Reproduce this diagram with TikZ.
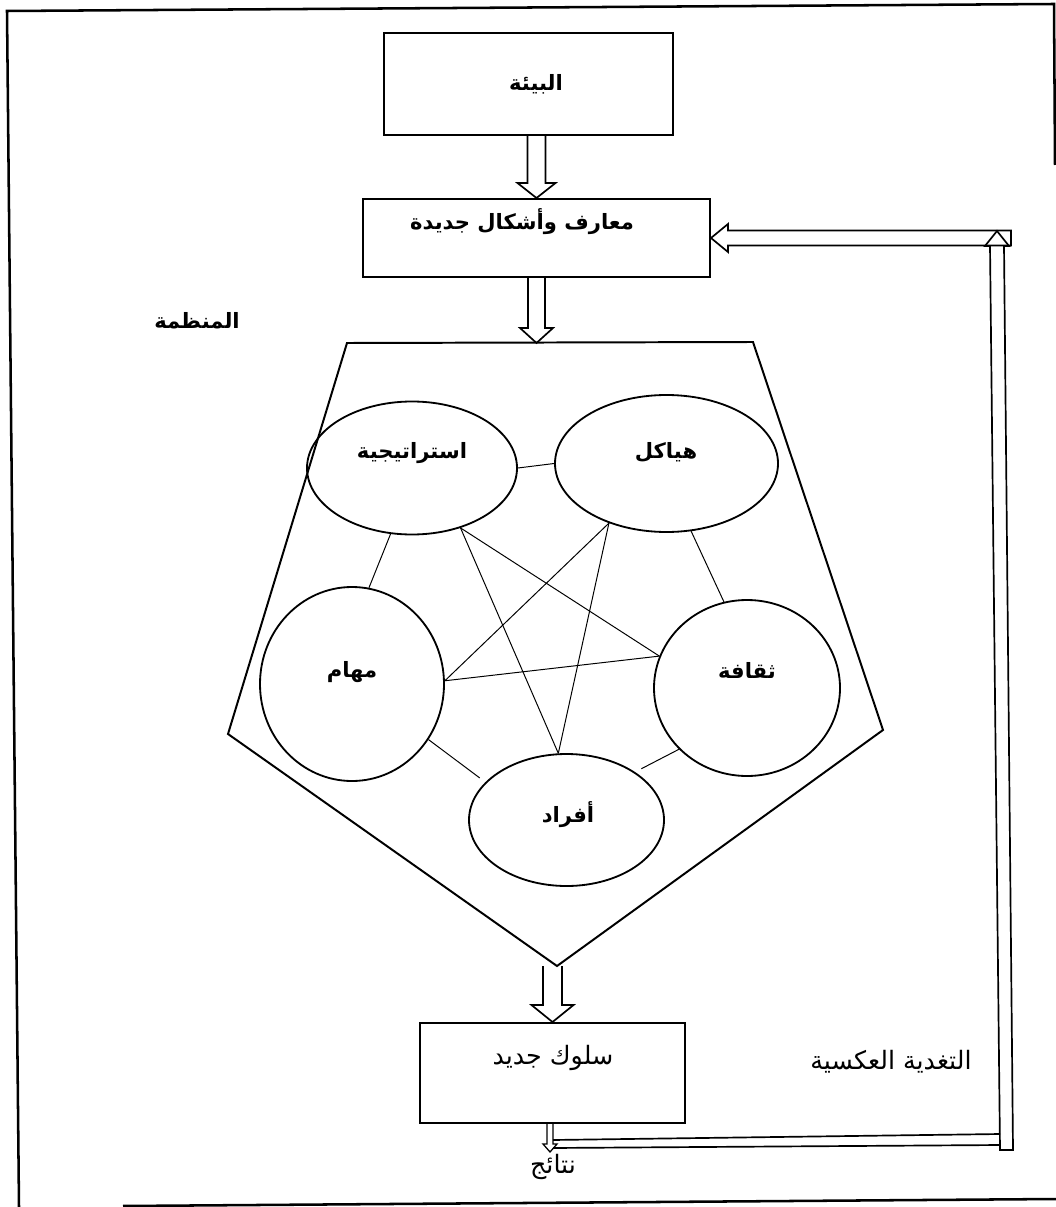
\documentclass[tikz,border=0pt]{standalone}
\usepackage{fontspec}
\newfontfamily\arabicfont[Script=Arabic]{DejaVu Sans}
\TeXXeTstate=1
\usetikzlibrary{shapes.geometric,calc}
\begin{document}
\begin{tikzpicture}[x=0.025cm,y=-0.025cm,
  box/.style={draw,line width=1.4pt,rectangle,inner sep=0pt},
  oval/.style={draw,ellipse,line width=1.3pt,inner sep=0pt},
  link/.style={line width=0.7pt},
  rim/.style={line width=1.4pt,line join=miter},
  blockarrow/.style={draw,line width=1.2pt,line join=miter},
  smallarrow/.style={draw,line width=0.9pt,line join=miter},
  frameline/.style={line width=1.8pt},
  headlbl/.style={font=\arabicfont\bfseries\fontsize{15}{17}\selectfont,inner sep=0pt},
  plainlbl/.style={font=\arabicfont\fontsize{18}{20}\selectfont,inner sep=0pt}]

\useasboundingbox (0,0) rectangle (1056,1207);

% page frame
\draw[frameline] (19,1207) -- (7,11) -- (1054,4) -- (1055,165);
\draw[frameline] (123,1206) -- (1056,1199);

% environment and new knowledge boxes
\node[box,minimum width=289*0.025cm,minimum height=102*0.025cm] (env) at (528.5,84) {};
\node[headlbl] (envtxt) at (536,84) {\beginR البيئة\endR};
\node[box,minimum width=347*0.025cm,minimum height=78*0.025cm] (know) at (536.5,238) {};
\node[headlbl] (knowtxt) at (522,222) {\beginR معارف وأشكال جديدة\endR};

% organisation pentagon
\coordinate (P1) at (347,343);
\coordinate (P2) at (753,342);
\coordinate (P3) at (883,730);
\coordinate (P4) at (557,966);
\coordinate (P5) at (228,734);
\draw[rim] (P1) -- (P2) -- (P3) -- (P4) -- (P5) -- cycle;
\node[headlbl] (orgtxt) at (197,321) {\beginR المنظمة\endR};

% the five components
\node[oval,minimum width=210*0.025cm,minimum height=133*0.025cm] (strat) at (412,468) {};
\node[oval,minimum width=223*0.025cm,minimum height=137*0.025cm] (struct) at (666.5,463.5) {};
\node[oval,minimum width=184*0.025cm,minimum height=194*0.025cm] (tasks) at (352,684) {};
\node[oval,minimum width=186*0.025cm,minimum height=176*0.025cm] (cult) at (747,688) {};
\node[oval,minimum width=195*0.025cm,minimum height=132*0.025cm] (ppl) at (566.5,820) {};

\node[headlbl] (strattxt) at (412,453) {\beginR استراتيجية\endR};
\node[headlbl] (structtxt) at (666,452) {\beginR هياكل\endR};
\node[headlbl] (taskstxt) at (352,672) {\beginR مهام\endR};
\node[headlbl] (culttxt) at (747,670) {\beginR ثقافة\endR};
\node[headlbl] (ppltxt) at (568,815) {\beginR أفراد\endR};

% links between neighbouring components
\draw[link] (strat.0) -- (struct.180);
\draw[link] (strat.-108) -- (tasks.80);
\draw[link] (struct.-70) -- (cult.105);
\draw[link,shorten >=5pt] (tasks.-36) -- (ppl.155);
\draw[link,shorten >=5pt] (cult.222) -- (ppl.35);

% star of cross links
\draw[link] (strat.-51) -- (ppl.97);
\draw[link] (strat.-51) -- (cult.160);
\draw[link] (struct.226) -- (tasks.2);
\draw[link] (struct.226) -- (ppl.97);
\draw[link] (tasks.2) -- (cult.160);

% new behaviour box
\node[box,minimum width=265*0.025cm,minimum height=100*0.025cm] (beh) at (552.5,1073) {};
\node[plainlbl] (behtxt) at (553,1058) {\beginR سلوك جديد\endR};

% hollow block arrows down the main flow
\draw[blockarrow] ($(know.north |- env.south)+(-9,0)$) -- ($(know.north)+(-9,-15)$)
  -- ($(know.north)+(-19,-15)$) -- (know.north) -- ($(know.north)+(19,-15)$)
  -- ($(know.north)+(9,-15)$) -- ($(know.north |- env.south)+(9,0)$);
\draw[blockarrow] ($(know.south)+(-8.5,0)$) -- ($(know.south |- P1)+(-8.5,-15)$)
  -- ($(know.south |- P1)+(-16.5,-15)$) -- (know.south |- P1) -- ($(know.south |- P1)+(16.5,-15)$)
  -- ($(know.south |- P1)+(8.5,-15)$) -- ($(know.south)+(8.5,0)$);
\draw[blockarrow] ($(beh.north |- P4)+(-9.5,0)$) -- ($(beh.north)+(-9.5,-17)$)
  -- ($(beh.north)+(-21,-17)$) -- (beh.north) -- ($(beh.north)+(21,-17)$)
  -- ($(beh.north)+(9.5,-17)$) -- ($(beh.north |- P4)+(9.5,0)$);

% results outlet
\draw[smallarrow] ($(beh.south)+(-5.5,0)$) -- ($(beh.south)+(-5.5,20)$) -- ($(beh.south)+(-9.5,20)$)
  -- ($(beh.south)+(-2.5,28)$) -- ($(beh.south)+(4.5,20)$) -- ($(beh.south)+(0.5,20)$) -- ($(beh.south)+(0.5,0)$);
\node[plainlbl] (restxt) at (553,1167) {\beginR نتائج\endR};

% feedback loop
\coordinate (fbfoot) at (1006.5,1150);
\coordinate (fbtop) at (997,231);
\coordinate (fbcorner) at (1011,238);
\draw[blockarrow] ($(beh.south)+(0.5,16)$) -- ($(fbfoot)+(-6.5,-16)$);
\draw[blockarrow] ($(beh.south)+(0.5,24)$) -- ($(fbfoot)+(-6,-5)$);
\draw[blockarrow] ($(fbfoot)+(-6.5,0)$) -- ($(fbtop)+(-7,15)$) -- ($(fbtop)+(-12,15)$) -- (fbtop)
  -- ($(fbtop)+(12,15)$) -- ($(fbtop)+(7,15)$) -- ($(fbfoot)+(6.5,0)$) -- cycle;
\draw[blockarrow] ($(fbcorner)+(0,-7.5)$) -- ($(know.east)+(17,-7.5)$) -- ($(know.east)+(17,-14)$)
  -- (know.east) -- ($(know.east)+(17,14)$) -- ($(know.east)+(17,7.5)$) -- ($(fbcorner)+(0,7.5)$) -- cycle;
\node[plainlbl] (fbtxt) at (891,1062) {\beginR التغدية العكسية\endR};

\end{tikzpicture}
\end{document}
